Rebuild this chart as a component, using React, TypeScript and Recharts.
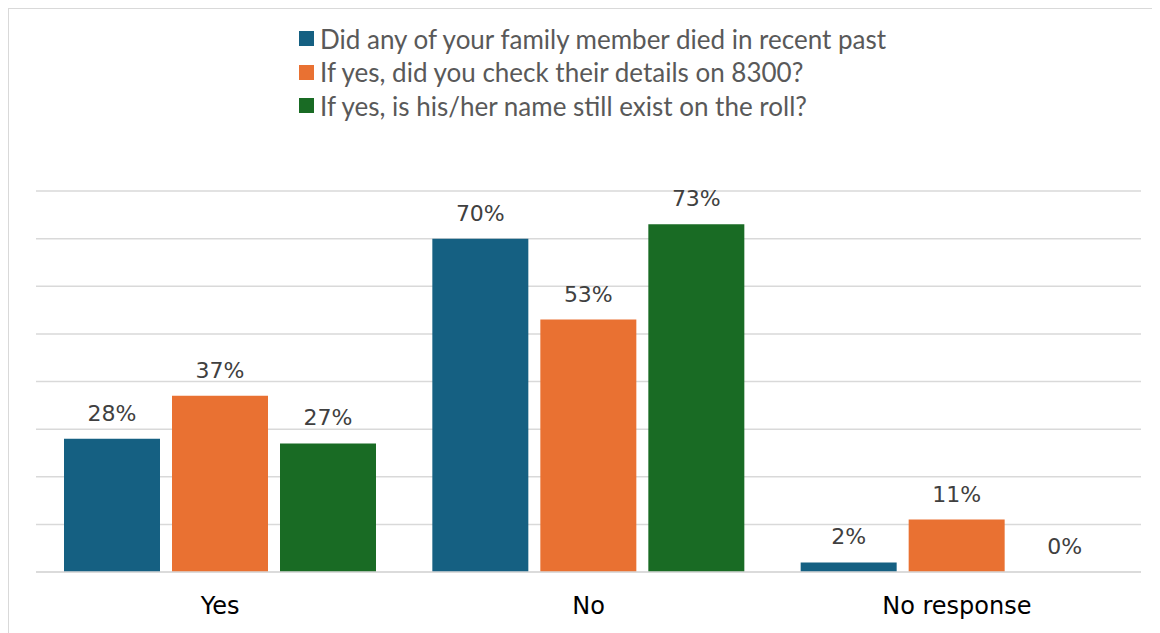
import React from 'react';
import { BarChart, Bar, XAxis, YAxis, CartesianGrid, Legend, LabelList } from 'recharts';

const categories = ['Yes', 'No', 'No response'];
const diedValues = [28, 70, 2];
const checkedValues = [37, 53, 11];
const stillExistValues = [27, 73, 0];
const yTicks = [0, 10, 20, 30, 40, 50, 60, 70, 80];

const seriesNames = [
  'Did any of your family member died in recent past',
  'If yes, did you check their details on 8300?',
  'If yes, is his/her name still exist on the roll?',
];
const seriesColors = ['#156082', '#E97132', '#196B24'];

const data = categories.map((c, i) => ({
  category: c,
  died: diedValues[i],
  checked: checkedValues[i],
  still: stillExistValues[i],
}));

const renderLegend = () => (
  <div style={{ fontFamily: 'Lato, "Noto Sans", sans-serif', fontSize: 26, color: '#595959' }}>
    {seriesNames.map((n, i) => (
      <div key={n} style={{ display: 'flex', alignItems: 'center', height: 33.5, whiteSpace: 'nowrap' }}>
        <span style={{ display: 'inline-block', width: 15, height: 15, background: seriesColors[i], marginRight: 6 }} />
        <span>{n}</span>
      </div>
    ))}
  </div>
);

const labelStyle = { fontFamily: '"DejaVu Sans", sans-serif', fontSize: 22, fill: '#404040' };
const fmt = (v: number) => `${v}%`;

export default function App() {
  return (
    <div style={{ position: 'relative', marginLeft: -1, marginTop: -1, width: 1200, height: 700, borderTop: '2px solid #d9d9d9', borderLeft: '2px solid #d9d9d9', background: '#fff' }}>
      <BarChart
        width={1152}
        height={625}
        data={data}
        margin={{ top: 182, right: 20, bottom: 0, left: 27 }}
        barCategoryGap={28}
        barGap={12}
      >
        <CartesianGrid horizontal vertical={false} stroke="#d9d9d9" strokeWidth={1.5} />
        <YAxis hide domain={[0, 80]} ticks={yTicks} />
        <XAxis
          dataKey="category"
          height={62}
          axisLine={{ stroke: '#d9d9d9', strokeWidth: 1.5 }}
          tickLine={false}
          tickMargin={19}
          tick={{ fontFamily: '"DejaVu Sans", sans-serif', fontSize: 24, fill: '#000' }}
        />
        <Legend
          layout="horizontal"
          verticalAlign="middle"
          align="center"
          wrapperStyle={{ top: 13, left: 290, width: 'auto' }}
          content={renderLegend}
        />
        <Bar dataKey="died" fill={seriesColors[0]} isAnimationActive={false}>
          <LabelList dataKey="died" position="top" offset={18} formatter={fmt} style={labelStyle} />
        </Bar>
        <Bar dataKey="checked" fill={seriesColors[1]} isAnimationActive={false}>
          <LabelList dataKey="checked" position="top" offset={18} formatter={fmt} style={labelStyle} />
        </Bar>
        <Bar dataKey="still" fill={seriesColors[2]} minPointSize={0.01} isAnimationActive={false}>
          <LabelList dataKey="still" position="top" offset={18} formatter={fmt} style={labelStyle} />
        </Bar>
      </BarChart>
    </div>
  );
}
